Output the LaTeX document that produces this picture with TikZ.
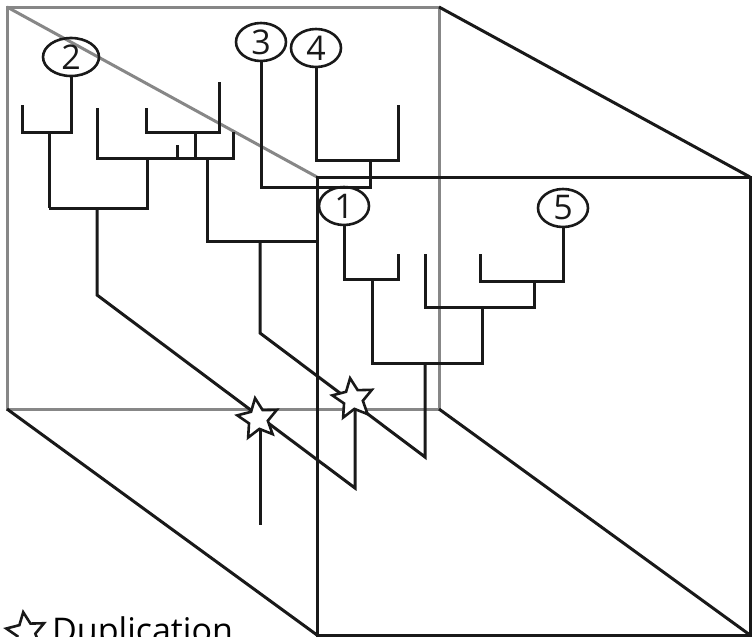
\documentclass[tikz,border=0pt]{standalone}
\usepackage{fontspec}
\setmainfont{Open Sans}
\usetikzlibrary{shapes.geometric}
\begin{document}
\begin{tikzpicture}[x=1pt,y=-1pt,
  edge/.style={line width=3pt,black!90,line join=miter},
  backedge/.style={line width=3pt,black!47},
  taxon/.style={ellipse,draw,line width=2.6pt,black!90,inner sep=0pt,
    minimum width=50pt,minimum height=38pt,font=\fontsize{34}{34}\selectfont},
  dup/.style={star,star points=5,star point ratio=2.1,draw=black!90,fill=white,
    line width=2.6pt,minimum size=42pt,inner sep=0pt,shape border rotate=8}]
\useasboundingbox (0,0) rectangle (753,637);

% back face of the box (grey) and its hidden edge
\draw[backedge] (7,7) rectangle (439,409);
\draw[backedge] (7,7) -- (317,177);

% front face and the visible receding edges
\draw[edge] (317,177) rectangle (750,635);
\draw[edge] (439,7) -- (750,177);
\draw[edge] (7,409) -- (317,635);
\draw[edge] (439,409) -- (750,635);

% taxon labels
\node[taxon,minimum width=56pt] (n2) at (71,57) {2};
\node[taxon] (n3) at (261,42) {3};
\node[taxon] (n4) at (316,48) {4};
\node[taxon] (n1) at (344,206) {1};
\node[taxon] (n5) at (563,208) {5};

% duplication markers
\coordinate (d1) at (258,419);
\coordinate (d2) at (353,399);

% clade in the back plane
\draw[edge] (22,105) -- (22,132) -- (n2.south |- 0,132) -- (n2.south);
\draw[edge] (49,132) -- (49,208);
\draw[edge] (97,108) -- (97,158) -- (233,158) -- (233,132);
\draw[edge] (49,208) -- (147,208) -- (147,158);
\draw[edge] (146,108) -- (146,132) -- (219,132) -- (219,82);
\draw[edge] (195,132) -- (195,158);
\draw[edge] (177,145) -- (177,158);
\draw[edge] (207,158) -- (207,241) -- (317,241);
\draw[edge] (97,208) -- (97,295) -- (355,488) -- (355,410);
\draw[edge] (260,241) -- (260,333) -- (425,457) -- (425,363);
\draw[edge] (260,430) -- (260,525);

% clade with taxa 3 and 4
\draw[edge] (n3.south) -- (n3.south |- 0,187) -- (370,187) -- (370,160);
\draw[edge] (n4.south) -- (n4.south |- 0,160) -- (398,160) -- (398,105);

% clade in the front plane
\draw[edge] (n1.south) -- (n1.south |- 0,279) -- (398,279) -- (398,254);
\draw[edge] (372,279) -- (372,363) -- (482,363) -- (482,307);
\draw[edge] (425,254) -- (425,307) -- (534,307) -- (534,281);
\draw[edge] (480,254) -- (480,281) -- (n5.south |- 0,281) -- (n5.south);

\node[dup] (s1) at (d1) {};
\node[dup] (s2) at (d2) {};

% legend
\node[dup,minimum size=40pt] (legstar) at (26,632) {};
\node[anchor=base west,inner sep=0pt,font=\fontsize{34}{34}\selectfont] (legtext) at (52,642) {Duplication};
\end{tikzpicture}
\end{document}
